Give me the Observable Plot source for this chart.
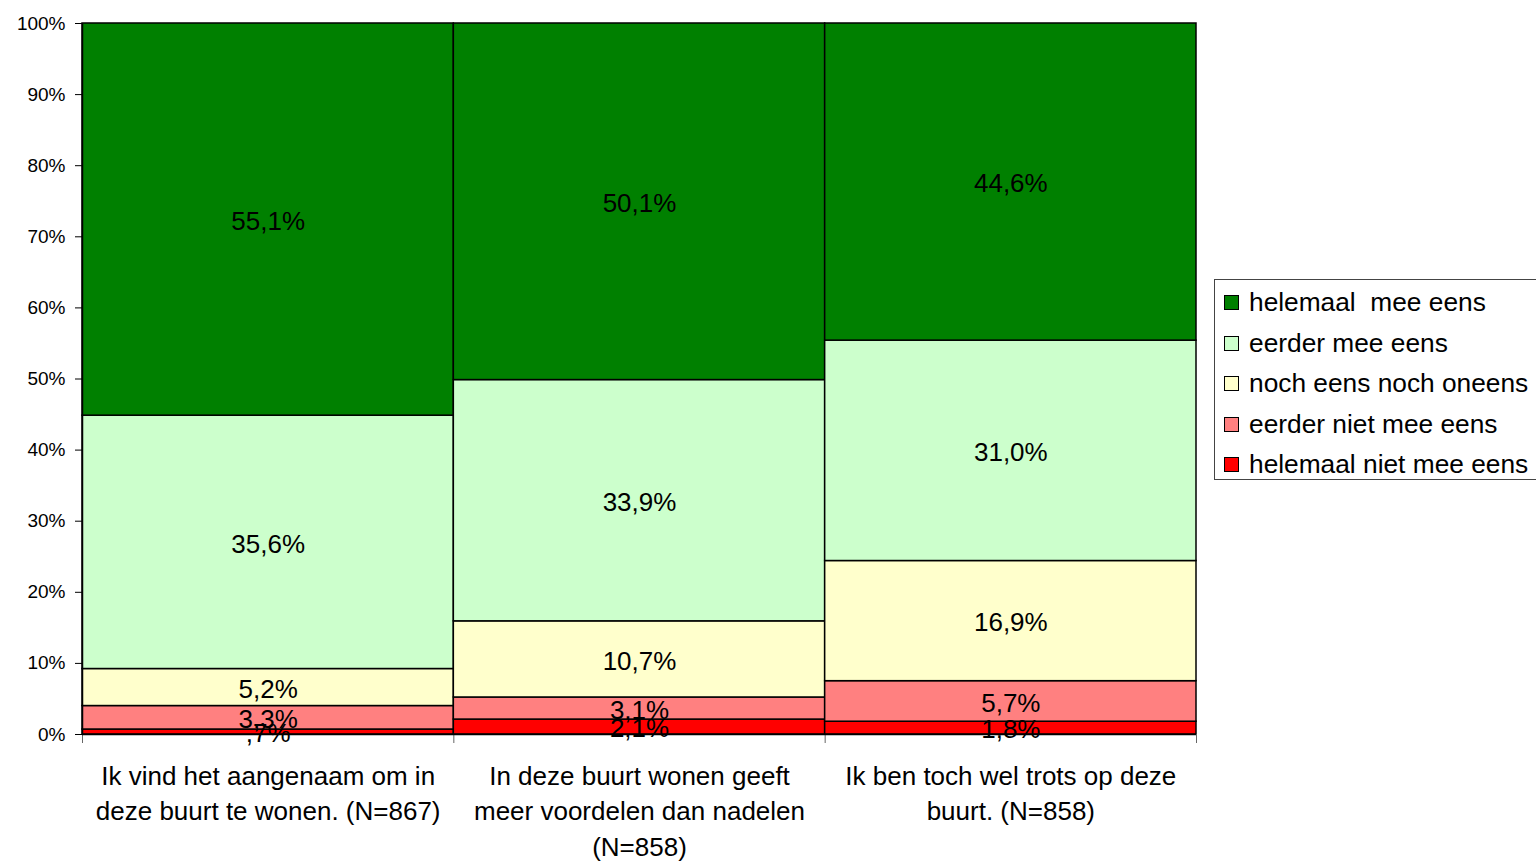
<!DOCTYPE html>
<html><head><meta charset="utf-8">
<script src="https://cdn.jsdelivr.net/npm/d3@7"></script>
<script src="https://cdn.jsdelivr.net/npm/@observablehq/plot@0.6"></script>
<style>
body{margin:0;background:#fff;font-family:"Liberation Sans",Arial,sans-serif;}
#wrap{position:relative;width:1536px;height:861px;overflow:hidden;}
#wrap svg{position:absolute;left:0;top:0;}
#legend{position:absolute;left:1214px;top:279px;width:340px;height:201px;border:1px solid #444;box-sizing:border-box;background:#fff;}
.item{position:absolute;left:9px;height:26px;font-size:26.3px;line-height:26px;display:flex;align-items:center;white-space:pre;color:#000;}
.sw{width:15px;height:15px;border:1px solid #000;box-sizing:border-box;margin-right:10px;flex:none;}
</style></head><body><div id="wrap"></div>
<script>
const categories = [
  "Ik vind het aangenaam om in\ndeze buurt te wonen. (N=867)",
  "In deze buurt wonen geeft\nmeer voordelen dan nadelen\n(N=858)",
  "Ik ben toch wel trots op deze\nbuurt. (N=858)"
];
const levels = ["helemaal niet mee eens","eerder niet mee eens","noch eens noch oneens","eerder mee eens","helemaal  mee eens"];
const colors = ["#FF0000","#FF8080","#FFFFCC","#CCFFCC","#008000"];
const helemaalNiet = [0.7, 2.1, 1.8];
const eerderNiet   = [3.3, 3.1, 5.7];
const noch         = [5.2, 10.7, 16.9];
const eerderMee    = [35.6, 33.9, 31.0];
const helemaalMee  = [55.1, 50.1, 44.6];
const yTicks = [0,0.1,0.2,0.3,0.4,0.5,0.6,0.7,0.8,0.9,1];

const series = [helemaalNiet, eerderNiet, noch, eerderMee, helemaalMee];
const rows = [];
categories.forEach((c,i)=>{
  levels.forEach((lv,j)=>{
    rows.push({i0:i, i1:i+1, mid:i+0.5, level:lv, value:series[j][i]});
  });
});
const fmt = v => d3.format(".1f")(v).replace(/^0/,"").replace(".",",") + "%";
const font = '"Liberation Sans", Arial, sans-serif';

const chart = Plot.plot({
  width:1536, height:861,
  marginLeft:82, marginRight:340, marginTop:23, marginBottom:127,
  style:{fontFamily:font, fontSize:"26px", background:"transparent", overflow:"visible", color:"#000"},
  x:{domain:[0,3], axis:null},
  y:{domain:[0,1], axis:null},
  color:{domain:levels, range:colors},
  marks:[
    Plot.rectY(rows, Plot.stackY({x1:"i0", x2:"i1", y:"value", fill:"level", z:"level", order:levels, offset:"normalize", stroke:"#000", strokeWidth:1.5})),
    Plot.text(rows, Plot.stackY({x:"mid", y:"value", z:"level", text:d=>fmt(d.value), order:levels, offset:"normalize", fontSize:26, fill:"#000", dy:2})),
    Plot.axisY({ticks:yTicks, tickFormat:d3.format(".0%"), tickSize:7, tickPadding:10, fontSize:19, stroke:"#000", label:null}),
    Plot.axisX({ticks:[0,1,2,3], tickSize:9, tickFormat:()=>"", stroke:"#666", label:null}),
    Plot.ruleY([0], {stroke:"#000", strokeWidth:1.5}),
    Plot.ruleX([0], {stroke:"#000", strokeWidth:1.5}),
    Plot.text(categories, {x:(d,i)=>i+0.5, y:0, text:d=>d, lineAnchor:"top", dy:25, lineHeight:1.365, fontSize:26, fill:"#000"})
  ]
});
const wrap = document.getElementById("wrap");
wrap.appendChild(chart);

const legend = document.createElement("div");
legend.id = "legend";
const legendOrder = levels.slice().reverse();
const legendColors = colors.slice().reverse();
const tops = [9,50,90,131,171];
legendOrder.forEach((lv,k)=>{
  const it = document.createElement("div");
  it.className = "item";
  it.style.top = tops[k] + "px";
  const sw = document.createElement("span");
  sw.className = "sw";
  sw.style.background = legendColors[k];
  it.appendChild(sw);
  it.appendChild(document.createTextNode(lv));
  legend.appendChild(it);
});
wrap.appendChild(legend);
</script>
</body></html>
